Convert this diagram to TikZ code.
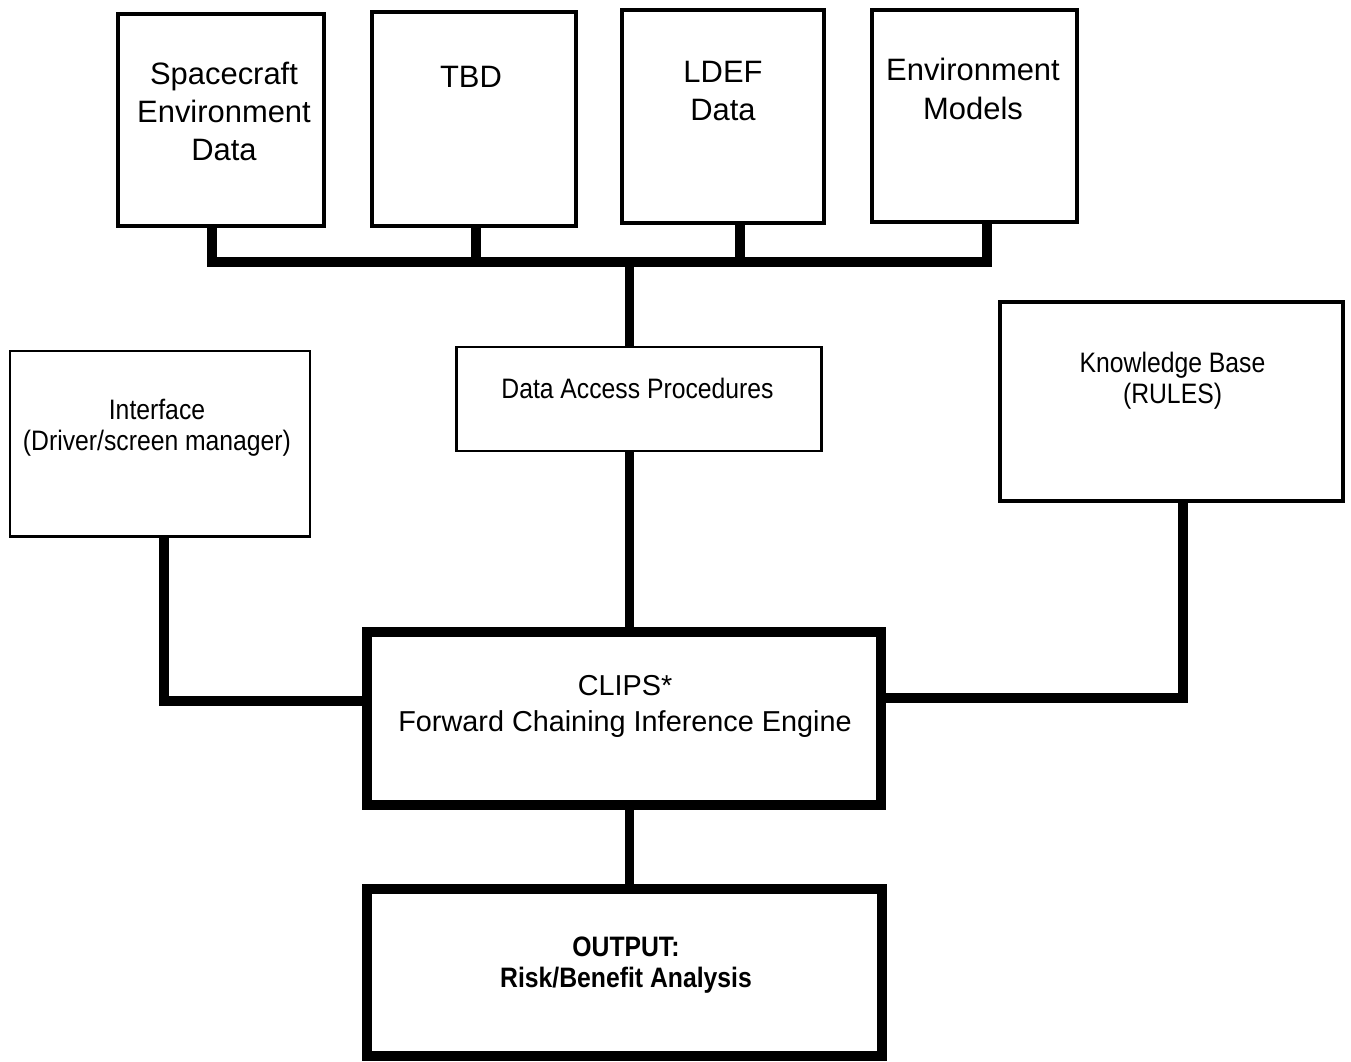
\documentclass[tikz,border=0pt]{standalone}
\usepackage{fontspec}
\setmainfont{Liberation Sans}
\newfontfamily\narrowfont[FakeStretch=0.88]{Liberation Sans}
\begin{document}
\begin{tikzpicture}[x=0.02cm,y=-0.02cm,
  box/.style={draw=black,fill=white,rectangle,inner sep=0pt},
  topbox/.style={box,line width=2.5pt},
  thinbox/.style={box,line width=1.7pt},
  kbbox/.style={box,line width=2.6pt},
  heavybox/.style={box,line width=5.67pt},
  conn/.style={draw=black,line width=5.67pt,line join=miter},
  toptext/.style={align=center,inner sep=0pt,font=\fontsize{17.6pt}{21.8pt}\selectfont},
  clipstext/.style={align=center,inner sep=0pt,font=\fontsize{16.4pt}{20.4pt}\selectfont},
  narrowtext/.style={align=center,inner sep=0pt,font=\narrowfont\fontsize{16pt}{17.6pt}\selectfont},
  outtext/.style={align=center,inner sep=0pt,font=\narrowfont\bfseries\fontsize{16pt}{18.1pt}\selectfont}
]
\useasboundingbox (0,0) rectangle (1351,1061);

% top boxes
\node[topbox,minimum width=206*0.02cm,minimum height=212*0.02cm] (sc) at (221,120) {};
\node[topbox,minimum width=204*0.02cm,minimum height=214*0.02cm] (tbd) at (474,119) {};
\node[topbox,minimum width=202*0.02cm,minimum height=213*0.02cm] (ldef) at (723,116.5) {};
\node[topbox,minimum width=205*0.02cm,minimum height=212*0.02cm] (em) at (974.5,116) {};

% middle boxes
\node[thinbox,minimum width=300*0.02cm,minimum height=185*0.02cm] (intf) at (160,443.5) {};
\node[thinbox,minimum width=365*0.02cm,minimum height=104*0.02cm] (dap) at (638.5,399) {};
\node[kbbox,minimum width=343*0.02cm,minimum height=199*0.02cm] (kb) at (1171.5,401.5) {};

% heavy boxes
\node[heavybox,minimum width=514*0.02cm,minimum height=173*0.02cm] (clips) at (624,718.5) {};
\node[heavybox,minimum width=515*0.02cm,minimum height=167*0.02cm] (out) at (624.5,972.5) {};

% texts
\node[toptext] (tsc) at (224,111.5) {Spacecraft\\Environment\\Data};
\node[toptext] (ttbd) at (471,77) {TBD};
\node[toptext] (tldef) at (723,91) {LDEF\\Data};
\node[toptext] (tem) at (973,89) {Environment\\Models};
\node[narrowtext] (tintf) at (157,427.5) {Interface\\(Driver/screen manager)};
\node[narrowtext] (tdap) at (637.5,388) {Data Access Procedures};
\node[narrowtext] (tkb) at (1172.5,380.5) {Knowledge Base\\(RULES)};
\node[clipstext] (tclips) at (625,706) {CLIPS*\\Forward Chaining Inference Engine};
\node[outtext] (tout) at (626,965) {OUTPUT:\\Risk/Benefit Analysis};

% bus
\coordinate (d1) at (212,262);
\coordinate (d2) at (476,262);
\coordinate (d3) at (740,262);
\coordinate (d4) at (987,262);
\coordinate (m) at (629.5,262);
\draw[conn] (sc.south -| d1) -- (d1) -- (d4) -- (em.south -| d4);
\draw[conn] (tbd.south -| d2) -- (d2);
\draw[conn] (ldef.south -| d3) -- (d3);
\draw[conn] (m) -- (dap.north -| m);
\draw[conn] (dap.south -| m) -- (clips.north -| m);
\draw[conn] (clips.south -| m) -- (out.north -| m);

% side connectors
\coordinate (ic) at (164,701);
\coordinate (kc) at (1182.5,698);
\draw[conn] (intf.south -| ic) -- (ic) -- (ic -| clips.west);
\draw[conn] (kb.south -| kc) -- (kc) -- (kc -| clips.east);
\end{tikzpicture}
\end{document}
